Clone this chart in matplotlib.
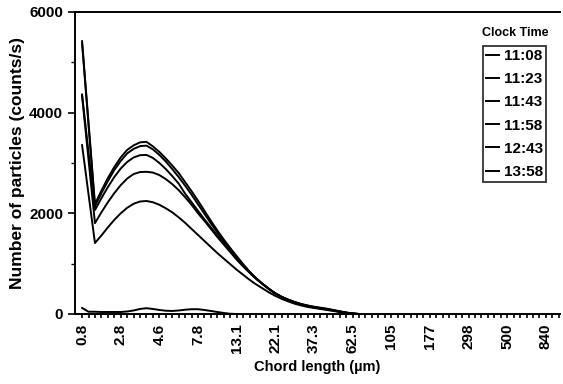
import matplotlib
matplotlib.use('Agg')
import matplotlib.pyplot as plt
import numpy as np

plt.rcParams['font.family'] = ['Liberation Sans', 'DejaVu Sans']
plt.rcParams['font.weight'] = 'bold'

# chord length channels (label every 6th channel)
chordLabels = ['0.8', '2.8', '4.6', '7.8', '13.1', '22.1', '37.3', '62.5',
               '105', '177', '298', '500', '840']
nChannels = 75
labelStep = 6

clockTimes = ['11:08', '11:23', '11:43', '11:58', '12:43', '13:58']

# counts/s per channel (channels beyond the list are 0)
c1108 = [120, 45, 45, 40, 40, 40, 40, 50, 70, 100, 115, 100, 80, 65, 60, 70,
         85, 95, 95, 80, 60, 40, 20, 5, 0]
c1123 = [3355, 2380, 1410, 1560, 1720, 1870, 2000, 2110, 2190, 2235, 2245, 2220,
         2170, 2100, 2020, 1920, 1810, 1690, 1570, 1450, 1330, 1210, 1100, 990,
         880, 780, 680, 590, 510, 430, 360, 300, 250, 205, 170, 140, 120, 100,
         80, 60, 40, 22, 8, 0]
c1143 = [4330, 3070, 1805, 2020, 2220, 2400, 2560, 2690, 2780, 2820, 2825, 2810,
         2760, 2680, 2580, 2460, 2320, 2170, 2000, 1850, 1690, 1530, 1380, 1230,
         1080, 945, 820, 700, 595, 495, 405, 335, 275, 225, 185, 155, 130, 110,
         90, 68, 45, 24, 8, 0]
c1158 = [4360, 3210, 2065, 2300, 2520, 2720, 2890, 3020, 3110, 3155, 3160, 3100,
         3000, 2880, 2740, 2590, 2390, 2220, 2050, 1880, 1720, 1560, 1410, 1250,
         1100, 960, 830, 710, 600, 500, 410, 340, 280, 230, 190, 160, 135, 115,
         95, 70, 48, 25, 8, 0]
c1243 = [5380, 3760, 2140, 2400, 2640, 2860, 3040, 3190, 3280, 3335, 3345, 3270,
         3160, 3030, 2880, 2720, 2550, 2370, 2180, 1990, 1800, 1620, 1450, 1290,
         1130, 980, 840, 710, 600, 500, 410, 340, 285, 235, 195, 165, 140, 120,
         100, 75, 50, 28, 10, 0]
c1358 = [5420, 3800, 2185, 2450, 2700, 2920, 3110, 3260, 3350, 3410, 3420, 3330,
         3220, 3090, 2950, 2800, 2620, 2440, 2250, 2050, 1850, 1660, 1480, 1310,
         1150, 990, 840, 710, 600, 500, 410, 340, 285, 240, 200, 170, 145, 125,
         105, 80, 55, 30, 10, 0]
series = [c1108, c1123, c1143, c1158, c1243, c1358]

fig = plt.figure(figsize=(5.63, 3.84), dpi=100)
ax = fig.add_axes([0.1332, 0.1823, 0.8615, 0.7865])

lines = []
for vals, lab in zip(series, clockTimes):
    ln, = ax.plot(np.arange(len(vals)), vals, color='black', lw=1.4, label=lab)
    lines.append(ln)

ax.set_xlim(-1.1, 74.2)
ax.set_ylim(0, 6000)
ax.set_yticks([0, 2000, 4000, 6000])
ax.set_yticks([1000, 3000, 5000], minor=True)
ax.set_xticks(np.arange(0, len(chordLabels) * labelStep, labelStep))
ax.set_xticklabels(chordLabels, rotation=90)
ax.set_xticks(np.arange(nChannels), minor=True)

ax.spines['right'].set_visible(False)
for s in ['left', 'top', 'bottom']:
    ax.spines[s].set_linewidth(1.4)
ax.tick_params(axis='y', which='major', labelsize=11, width=1.2, length=5)
ax.tick_params(axis='y', which='minor', length=3, width=1.0)
ax.tick_params(axis='x', which='both', length=3, width=1.2, pad=4, labelsize=11)

ax.set_xlabel('Chord length (\u00b5m)', fontsize=10.5, fontweight='bold', labelpad=5)
ax.set_ylabel('Number of particles (counts/s)', fontsize=12.5, fontweight='bold', labelpad=3)

leg = fig.legend(handles=lines, loc='upper left', bbox_to_anchor=(0.858, 0.880),
                 frameon=True, fancybox=False, fontsize=11, handlelength=0.85,
                 handletextpad=0.3, labelspacing=0.6, borderpad=0.2,
                 borderaxespad=0)
leg.get_frame().set_edgecolor('black')
leg.get_frame().set_linewidth(1.3)
fig.text(0.915, 0.914, 'Clock Time', ha='center', va='center', fontsize=9,
         fontweight='bold')

fig.savefig('out.png', dpi=100)
